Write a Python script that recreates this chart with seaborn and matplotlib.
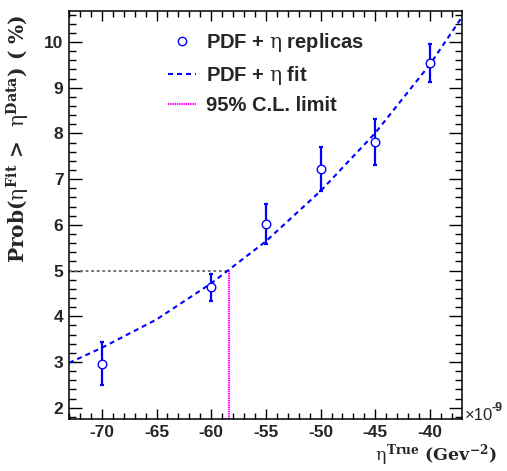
import numpy as np
import pandas as pd
import matplotlib
matplotlib.use("Agg")
import matplotlib.pyplot as plt
from matplotlib.lines import Line2D
from matplotlib.ticker import MultipleLocator
import seaborn as sns

# ---- data ----
eta_true = [-70, -60, -55, -50, -45, -40]          # x 10^-9 GeV^-2
prob_replicas = [2.96, 4.63, 6.02, 7.22, 7.81, 9.54]  # %
prob_err = [0.47, 0.30, 0.43, 0.48, 0.50, 0.42]

fit_x = [-73.0, -70.0, -65.0, -60.0, -55.0, -50.0, -45.0, -40.0, -37.2]
fit_y = [2.98, 3.31, 3.93, 4.72, 5.64, 6.74, 8.01, 9.51, 10.50]

cl_prob = 5.0
cl_eta = -58.4

legend_labels = [r"PDF + $\eta$ replicas", r"PDF + $\eta$ fit", "95% C.L. limit"]

# ---- style ----
sns.set_theme(style="ticks")
plt.rcParams["font.family"] = ["Liberation Sans", "DejaVu Sans"]
plt.rcParams["mathtext.fontset"] = "custom"
plt.rcParams["mathtext.rm"] = "DejaVu Serif"
plt.rcParams["mathtext.it"] = "DejaVu Serif"
plt.rcParams["mathtext.bf"] = "DejaVu Serif:bold"
plt.rcParams["lines.scale_dashes"] = False

BLUE = "#0000ff"
MAG = "#ff00ff"

fig = plt.figure(figsize=(5.07, 4.71), dpi=100)
ax = fig.add_axes([69 / 507, 52 / 471, (462 - 69) / 507, (419 - 11) / 471])

df_pts = pd.DataFrame({"x": eta_true, "y": prob_replicas, "e": prob_err})
df_fit = pd.DataFrame({"x": fit_x, "y": fit_y})

# reference lines
ax.plot([-73, cl_eta], [cl_prob, cl_prob], color="0.45", lw=1.4,
        linestyle=(0, (2, 2)), zorder=2)
ax.plot([cl_eta, cl_eta], [1.75, cl_prob], color=MAG, lw=1.6,
        linestyle=(0, (1, 0.6)), zorder=2)

# fit
sns.lineplot(data=df_fit, x="x", y="y", ax=ax, color=BLUE, lw=1.5,
             dashes=False, zorder=3)
ax.lines[-1].set_dashes((3.6, 2.9))

# error bars + points
ax.errorbar(df_pts["x"], df_pts["y"], yerr=df_pts["e"], fmt="none",
            ecolor=BLUE, elinewidth=1.6, capsize=1.6, capthick=1.6, zorder=4)
sns.scatterplot(data=df_pts, x="x", y="y", ax=ax, marker="o", s=38,
                facecolor="white", edgecolor=BLUE, linewidth=1.0, zorder=5)

ax.set_xlim(-73.0, -37.07)
ax.set_ylim(1.753, 10.678)

ax.xaxis.set_major_locator(MultipleLocator(5))
ax.xaxis.set_minor_locator(MultipleLocator(1))
ax.yaxis.set_major_locator(MultipleLocator(1))
ax.yaxis.set_minor_locator(MultipleLocator(0.2))
ax.tick_params(axis="both", which="both", direction="in", top=True, right=True,
               color="black", width=1.0)
ax.tick_params(axis="y", which="major", length=9.5, pad=4)
ax.tick_params(axis="y", which="minor", length=5)
ax.tick_params(axis="x", which="major", length=7.5, pad=4)
ax.tick_params(axis="x", which="minor", length=4)
ax.set_xticks([-70, -65, -60, -55, -50, -45, -40])
ax.set_xticklabels(["-70", "-65", "-60", "-55", "-50", "-45", "-40"])
ax.set_yticks([2, 3, 4, 5, 6, 7, 8, 9, 10])
ax.set_yticklabels(["2", "3", "4", "5", "6", "7", "8", "9", "10"])
for lab in ax.get_xticklabels() + ax.get_yticklabels():
    lab.set_fontsize(12.5)
    lab.set_fontweight("bold")
for sp in ax.spines.values():
    sp.set_linewidth(1.1)
    sp.set_color("black")

ax.set_xlabel("")
ax.set_ylabel("")

# axis titles
fig.text(497 / 507, 1 - 460 / 471, r"$\eta^{\mathbf{True}}$ (Gev$^{\mathbf{-2}}$)",
         ha="right", va="baseline", fontsize=12.5, fontweight="bold",
         family="DejaVu Serif")
fig.text(18 / 507, 1 - 15 / 471,
         r"Prob($\eta^{\mathbf{Fit}}$ >  $\eta^{\mathbf{Data}}$) ( %)",
         ha="center", va="top", rotation=90, fontsize=14.5, fontweight="bold",
         family="DejaVu Serif")

# exponent
fig.text(465 / 507, 1 - 416 / 471, "\u00d710", ha="left", va="center",
         fontsize=12)
fig.text(491 / 507, 1 - 408 / 471, "-9", ha="left", va="center",
         fontsize=9, fontweight="bold")

# legend
handles = [
    Line2D([], [], marker="o", markersize=6, markerfacecolor="white",
           markeredgecolor=BLUE, markeredgewidth=1.0, linestyle="none"),
    Line2D([], [], color=BLUE, lw=1.5, dashes=(3.6, 2.9)),
    Line2D([], [], color=MAG, lw=1.6, linestyle=(0, (1, 0.6))),
]
leg = ax.legend(handles, legend_labels, loc="upper left",
                bbox_to_anchor=(168 / 507, 1 - 31 / 471),
                bbox_transform=fig.transFigure, frameon=False,
                prop={"size": 14.5, "weight": "bold"}, handlelength=1.4,
                handletextpad=0.5, labelspacing=0.48, borderpad=0,
                borderaxespad=0)

fig.savefig("out.png", dpi=100)
